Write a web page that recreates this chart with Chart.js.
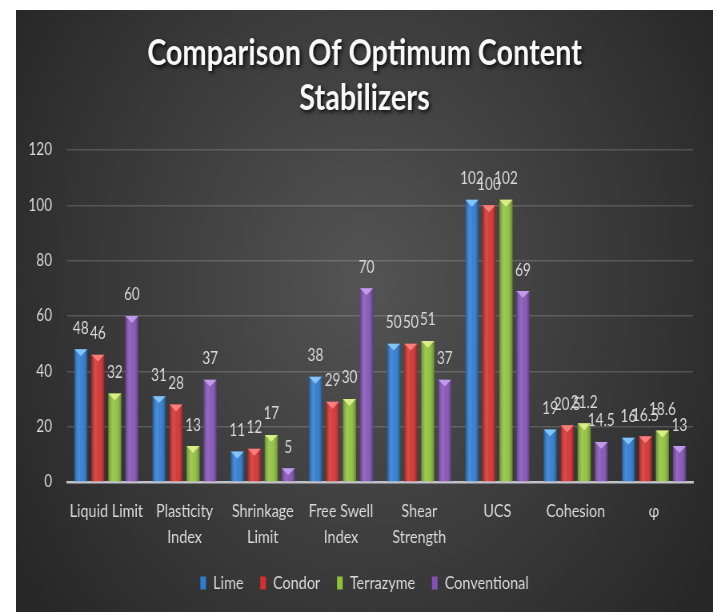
<!DOCTYPE html>
<html><head><meta charset="utf-8">
<script src="https://cdn.jsdelivr.net/npm/chart.js@4.4.1/dist/chart.umd.min.js"></script>
<style>
html,body{margin:0;padding:0;background:#fff;}
#wrap{position:absolute;left:16px;top:10px;width:697px;height:602px;}
#c{width:697px;height:602px;display:block;}
</style></head><body>
<div id="wrap"><canvas id="c" width="871" height="602" style="width:697px;height:602px"></canvas></div>
<script>
const categories = [['Liquid Limit'],['Plasticity','Index'],['Shrinkage','Limit'],['Free Swell','Index'],['Shear','Strength'],['UCS'],['Cohesion'],['φ']];
const seriesNames = ['Lime','Condor','Terrazyme','Conventional'];
const lime = [48,31,11,38,50,102,19,16];
const condor = [46,28,12,29,50,100,20.5,16.5];
const terrazyme = [32,13,17,30,51,102,21.2,18.6];
const conventional = [60,37,5,70,37,69,14.5,13];
const yTickValues = [0,20,40,60,80,100,120];
const titleLines = ['Comparison Of Optimum Content','Stabilizers'];

const FONT = "Lato,'Open Sans',sans-serif";
const baseColors = ['#2d7bd2','#d4302e','#8fc13b','#8452b6'];
const tipColors = ['#8fd0ff','#ff8a86','#e4f58f','#c8a4f2'];

const bgPlugin = {
  id:'bg',
  beforeDraw(chart){
    const {ctx,width,height} = chart;
    const g = ctx.createRadialGradient(width*0.5, height*0.45, 0, width*0.5, height*0.45, width*0.6);
    g.addColorStop(0,'#545454');
    g.addColorStop(1,'#272727');
    ctx.save(); ctx.fillStyle=g; ctx.fillRect(0,0,width,height); ctx.restore();
    if (chart.titleBlock && !chart.titleBlock._wrapped){
      const tb = chart.titleBlock; const orig = tb.draw.bind(tb);
      tb.draw = function(){ const c = chart.ctx; c.save(); c.shadowColor='rgba(0,0,0,0.85)'; c.shadowBlur=4; c.shadowOffsetX=2; c.shadowOffsetY=2; orig(); c.restore(); };
      tb._wrapped = true;
    }
  }
};

const barStyle = {
  id:'barStyle',
  afterDatasetsDraw(chart){
    const ctx = chart.ctx;
    chart.data.datasets.forEach((ds,di)=>{
      const meta = chart.getDatasetMeta(di);
      meta.data.forEach(el=>{
        const w = el.width, l = el.x - w/2, top = el.y, bot = el.base;
        ctx.save();
        const g = ctx.createLinearGradient(l,0,l+w,0);
        g.addColorStop(0,'rgba(0,0,0,0.28)');
        g.addColorStop(0.35,'rgba(255,255,255,0.14)');
        g.addColorStop(0.55,'rgba(255,255,255,0.05)');
        g.addColorStop(1,'rgba(0,0,0,0.32)');
        ctx.fillStyle=g; ctx.fillRect(l,top,w,bot-top);
        ctx.beginPath(); ctx.moveTo(l,top); ctx.lineTo(l+w,top); ctx.lineTo(el.x, top+Math.min(w*0.42,bot-top)); ctx.closePath();
        ctx.fillStyle=tipColors[di]; ctx.globalAlpha=0.85; ctx.fill();
        ctx.restore();
      });
    });
    ctx.save();
    ctx.font = '17px ' + FONT;
    ctx.fillStyle = '#d9d9d9';
    ctx.textAlign='center'; ctx.textBaseline='middle';
    chart.data.datasets.forEach((ds,di)=>{
      const meta = chart.getDatasetMeta(di);
      meta.data.forEach((el,i)=>{
        ctx.fillText(String(ds.data[i]), el.x, el.y - 21);
      });
    });
    ctx.restore();
  }
};

const datasets = [lime,condor,terrazyme,conventional].map((d,i)=>({
  label: seriesNames[i], data: d, backgroundColor: baseColors[i], borderWidth:0,
  categoryPercentage:0.87, barPercentage:0.77
}));

new Chart(document.getElementById('c'), {
  type:'bar',
  data:{labels:categories, datasets},
  plugins:[bgPlugin, barStyle],
  options:{
    responsive:false, animation:false, devicePixelRatio:1,
    layout:{padding:{top:0,left:0,right:0,bottom:10}},
    plugins:{
      title:{display:true, text:titleLines, color:'#f8f8f8', font:{family:FONT, size:36, weight:'bold', lineHeight:1.25}, padding:{top:21,bottom:29}},
      legend:{position:'bottom', labels:{boxWidth:7, boxHeight:13, color:'#d9d9d9', font:{family:FONT,size:18}, padding:21}},
      tooltip:{enabled:false}
    },
    scales:{
      x:{
        afterFit(scale){ scale.height = 71; },
        grid:{display:false, drawTicks:false},
        border:{display:true, color:'#c2c2ca', width:2.5},
        ticks:{color:'#d9d9d9', font:{family:FONT,size:18,lineHeight:1.45}, padding:16, maxRotation:0, autoSkip:false}
      },
      y:{
        min:0, max:120,
        afterBuildTicks(scale){ scale.ticks = yTickValues.map(v=>({value:v})); },
        afterFit(scale){ scale.width = 64; },
        grid:{drawTicks:false, color:(c)=> (c.tick && c.tick.value===0) ? 'rgba(0,0,0,0)' : 'rgba(255,255,255,0.17)', lineWidth:1.5},
        border:{display:false},
        ticks:{color:'#d9d9d9', font:{family:FONT,size:17}, padding:19}
      },
      yRight:{
        position:'right', display:true, min:0, max:120,
        afterFit(scale){ scale.width = 25; },
        grid:{display:false, drawTicks:false},
        border:{display:false},
        ticks:{display:false}
      }
    }
  }
});
</script>
</body></html>
